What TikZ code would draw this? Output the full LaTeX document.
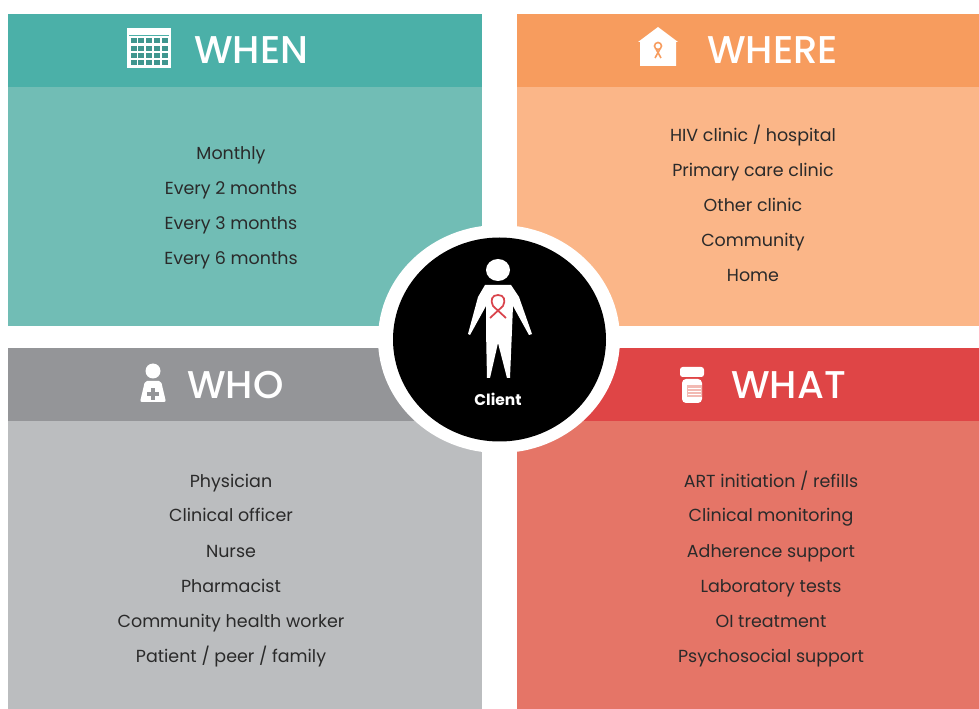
\documentclass[tikz,border=0pt]{standalone}
\usepackage{fontspec}
\setmainfont{Poppins}
\newfontfamily\headfont{Poppins Medium}
\definecolor{tealH}{HTML}{4BB0A8}
\definecolor{tealB}{HTML}{71BDB5}
\definecolor{orangeH}{HTML}{F79C5E}
\definecolor{orangeB}{HTML}{FBB688}
\definecolor{greyH}{HTML}{949598}
\definecolor{greyB}{HTML}{BBBDBF}
\definecolor{redH}{HTML}{DF4546}
\definecolor{redB}{HTML}{E57567}
\definecolor{txt}{HTML}{2A2A2A}
\definecolor{ribbon}{HTML}{D9434B}
\tikzset{
  x=0.75pt,y=-0.75pt,
  body/.style={font=\fontsize{13.1}{15}\selectfont,text=txt,anchor=base,inner sep=0pt},
  head/.style={font=\headfont\fontsize{29}{32}\selectfont,text=white,anchor=base west,inner sep=0pt},
  ico/.style={fill=white,draw=none},
}
\begin{document}
\begin{tikzpicture}
\useasboundingbox (0,0) rectangle (979,709);
\fill[white] (0,0) rectangle (979,709);
% panels
\fill[tealB] (8,14) rectangle (482,326);
\fill[tealH] (8,14) rectangle (482,87);
\fill[orangeB] (517,14) rectangle (979,326);
\fill[orangeH] (517,14) rectangle (979,87);
\fill[greyB] (8,348) rectangle (482,709);
\fill[greyH] (8,348) rectangle (482,421);
\fill[redB] (517,348) rectangle (979,709);
\fill[redH] (517,348) rectangle (979,421);
% headings
\node[head] (hwhen) at (194,64) {WHEN};
\node[head] (hwhere) at (707,64) {WHERE};
\node[head] (hwho) at (187,399) {WHO};
\node[head] (hwhat) at (731,399) {WHAT};
% calendar icon
\fill[ico] (127,28) rectangle (171,68);
\fill[tealH] (129,35) rectangle (169,36.5);
\foreach \cx in {0,1,2,3,4}{\foreach \cy in {0,1,2,3}{
  \fill[tealH!85!black] (130.5+\cx*7.8,38.5+\cy*7.2) rectangle (136.5+\cx*7.8,43.5+\cy*7.2);}}
% house icon
\fill[ico] (640,66) -- (640,42) -- (638,42) -- (658,27) -- (678,42) -- (676,42) -- (676,66) -- cycle;
\draw[orangeH,line width=1.2pt] (658,46) circle[radius=3.5];
\draw[orangeH,line width=1.2pt] (655,58) -- (660,49) (661,58) -- (656,49);
% nurse icon
\fill[ico] (153,371) circle[radius=7.5];
\fill[ico,rounded corners=1.5pt] (145,381) -- (161,381) -- (166,402) -- (140,402) -- cycle;
\fill[greyH] (151,388) rectangle (155,400);
\fill[greyH] (147,392) rectangle (159,396);
% bottle icon
\fill[ico,rounded corners=2pt] (680,367) rectangle (704,377);
\fill[ico,rounded corners=3pt] (682,379) rectangle (702,403);
\fill[redB!50!white] (687,385) rectangle (702,397);
\draw[white,line width=0.5pt] (688,388) -- (701,388) (688,391) -- (701,391) (688,394) -- (701,394);
% body texts
\foreach \y/\t [count=\i] in {160/{Monthly},195/{Every 2 months},230/{Every 3 months},265/{Every 6 months}}
  \node[body] (when\i) at (231,\y) {\t};
\foreach \y/\t [count=\i] in {142/{HIV clinic / hospital},177/{Primary care clinic},212/{Other clinic},247/{Community},282/{Home}}
  \node[body] (where\i) at (753,\y) {\t};
\foreach \y/\t [count=\i] in {487/{Physician},522/{Clinical officer},557/{Nurse},592/{Pharmacist},627/{Community health worker},662/{Patient / peer / family}}
  \node[body] (who\i) at (231,\y) {\t};
\foreach \y/\t [count=\i] in {487/{ART initiation / refills},522/{Clinical monitoring},557/{Adherence support},592/{Laboratory tests},627/{OI treatment},662/{Psychosocial support}}
  \node[body] (what\i) at (771,\y) {\t};
% centre
\fill[white] (499,339) ellipse[x radius=121,y radius=114];
\fill[black] (499.5,339.5) ellipse[x radius=106.5,y radius=102];
% person
\fill[white] (498,270) ellipse[x radius=12,y radius=11];
\fill[white] (485,285) -- (511,285) -- (519,297) -- (532,334) -- (529,335) -- (513,306) -- (512,330) -- (510,378) -- (507,378) -- (498,343) -- (490,378) -- (487,378) -- (486,330) -- (486,306) -- (470,335) -- (468,334) -- (478,297) -- cycle;
% ribbon
\draw[ribbon,line width=1.3pt,line join=round] (490,318) -- (503,306) .. controls (506,300) and (504,295) .. (498,295) .. controls (492,295) and (490,300) .. (493,306) -- (506,318);
\node[font=\fontsize{11.6}{13}\selectfont\bfseries,text=white,inner sep=0pt] (client) at (498,399) {Client};
\end{tikzpicture}
\end{document}
